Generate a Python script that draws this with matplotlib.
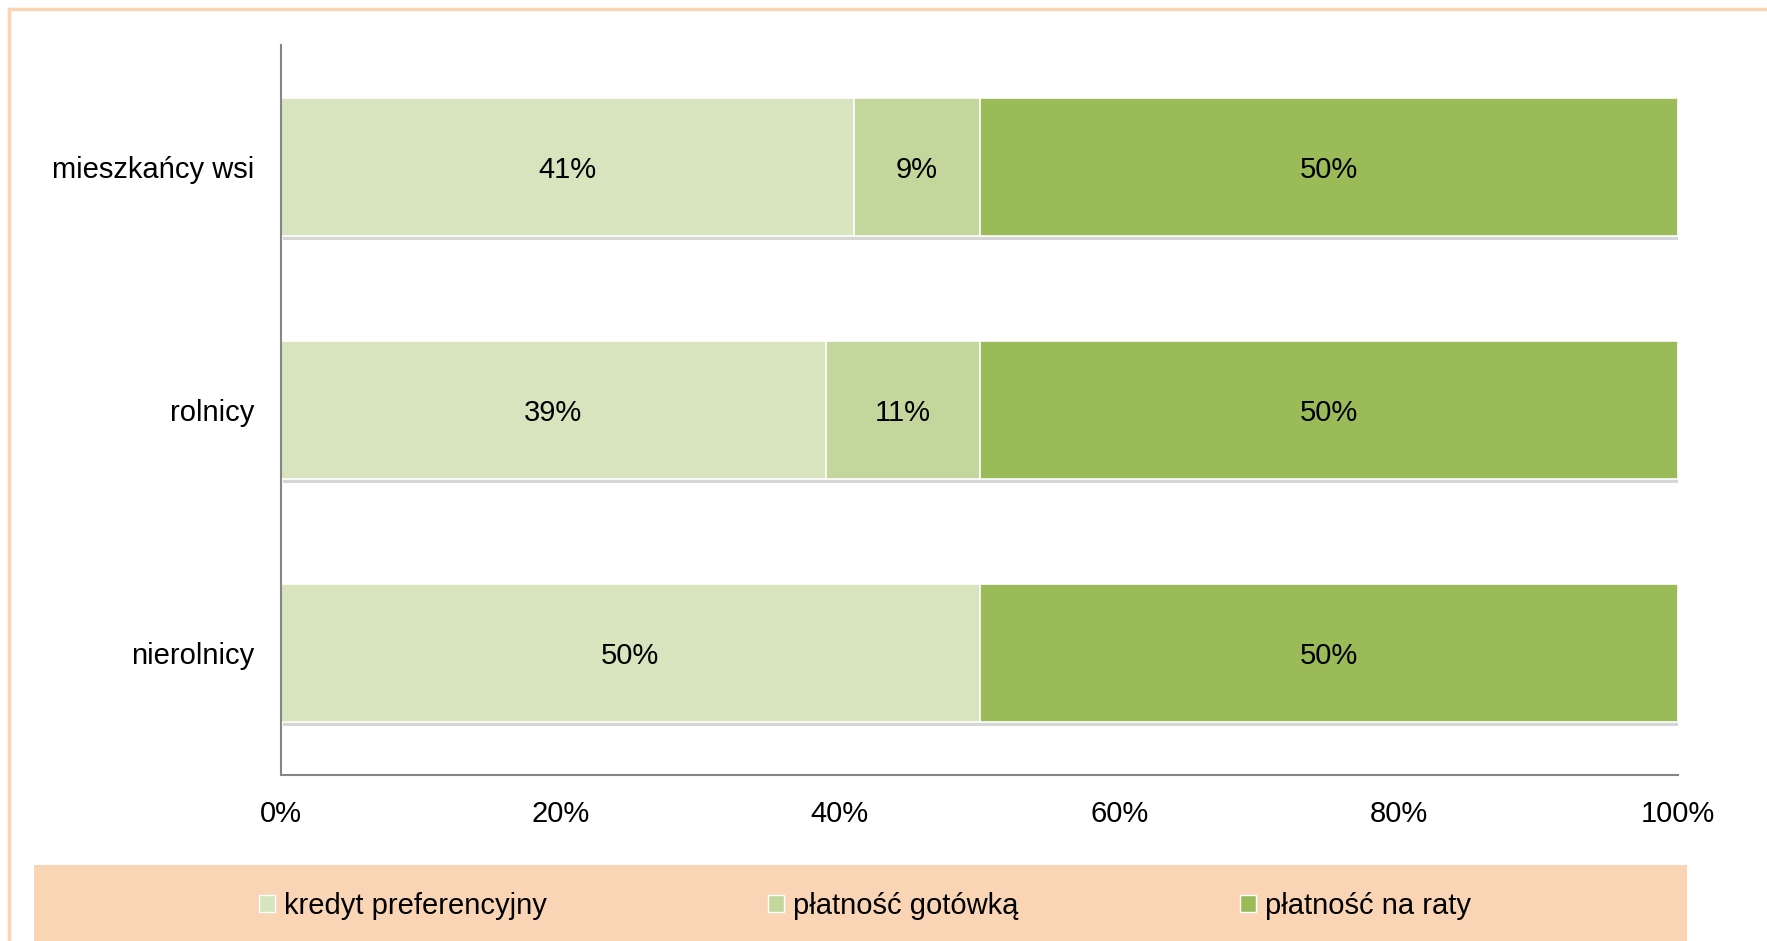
import matplotlib.pyplot as plt
import matplotlib.patheffects as pe
from matplotlib.patches import Rectangle
from matplotlib.lines import Line2D
import numpy as np

plt.rcParams['font.family'] = ['Liberation Sans', 'DejaVu Sans']

categories = ['mieszkańcy wsi', 'rolnicy', 'nierolnicy']
kredyt = [41, 39, 50]
gotowka = [9, 11, 0]
raty = [50, 50, 50]
series_names = ['kredyt preferencyjny', 'płatność gotówką', 'płatność na raty']
colors = ['#D7E4BD', '#C3D69B', '#9BBB59']
xticks = [0, 20, 40, 60, 80, 100]

W, H = 1767, 941
fig = plt.figure(figsize=(W / 100, H / 100), dpi=100)
ax = fig.add_axes([281 / W, 1 - 775 / H, (1678 - 281) / W, (775 - 45) / H])

y = np.arange(len(categories))[::-1]
shadow = [pe.SimplePatchShadow(offset=(1.5, -3), shadow_rgbFace='#9a9a9a', alpha=0.4), pe.Normal()]
left = np.zeros(len(categories))
for vals, col in zip([kredyt, gotowka, raty], colors):
    vals = np.array(vals, dtype=float)
    bars = ax.barh(y, vals, left=left, height=0.567, color=col, edgecolor='white', linewidth=1.2)
    for b, v in zip(bars, vals):
        b.set_path_effects(shadow)
        if v > 0:
            ax.text(b.get_x() + b.get_width() / 2, b.get_y() + b.get_height() / 2, f'{v:.0f}%',
                    ha='center', va='center_baseline', fontsize=21, color='black')
    left += vals

ax.set_xlim(0, 100)
ax.set_ylim(-0.5, len(categories) - 0.5)
ax.set_yticks(y)
ax.set_yticklabels(categories, fontsize=21)
ax.set_xticks(xticks)
ax.set_xticklabels([f'{t}%' for t in xticks], fontsize=21)
ax.tick_params(axis='y', length=0, pad=19)
ax.tick_params(axis='x', length=0, pad=18)
for s in ['top', 'right']:
    ax.spines[s].set_visible(False)
for s in ['left', 'bottom']:
    ax.spines[s].set_color('#868686')
    ax.spines[s].set_linewidth(1.5)

# peach frame and legend band
fig.add_artist(Line2D([9 / W, 1], [1 - 9 / H, 1 - 9 / H], color='#FBD5B5', lw=2.5))
fig.add_artist(Line2D([9 / W, 9 / W], [0, 1 - 9 / H], color='#FBD5B5', lw=2.5))
fig.add_artist(Rectangle((34 / W, 0), (1687 - 34) / W, (941 - 865) / H, transform=fig.transFigure,
                         facecolor='#FAD5B5', edgecolor='none', zorder=0))

handles = [Rectangle((0, 0), 1, 1, facecolor=c, edgecolor='white', linewidth=1) for c in colors]
fig.legend(handles, series_names, loc='center', bbox_to_anchor=(865 / W, 1 - 906 / H), ncol=3,
           frameon=False, fontsize=21, handlelength=0.55, handleheight=0.55, handletextpad=0.3,
           columnspacing=7.6)

fig.savefig('out.png', dpi=100)
